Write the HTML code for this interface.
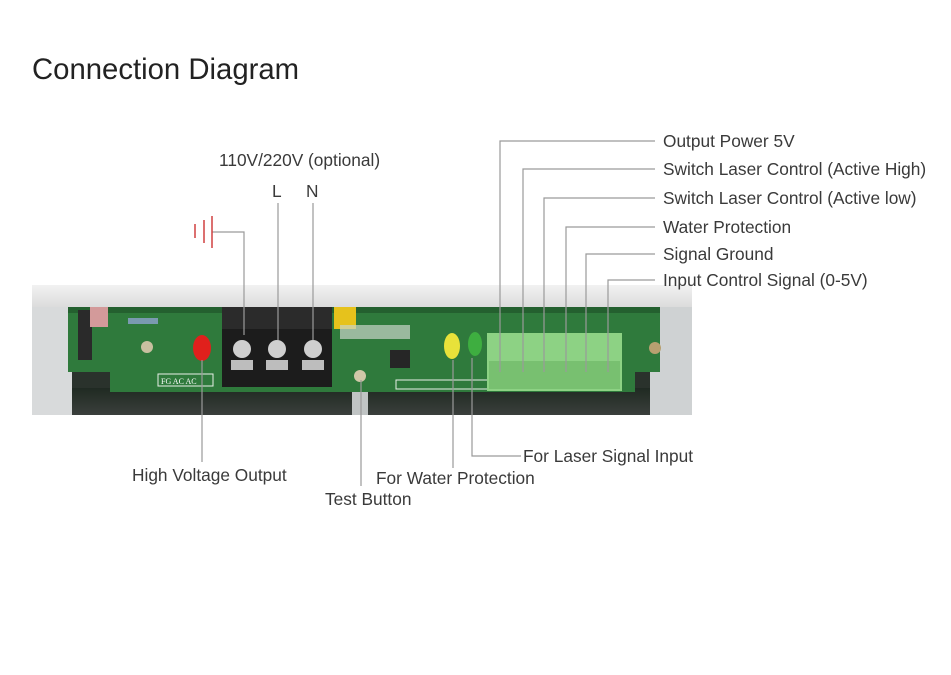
<!DOCTYPE html>
<html><head><meta charset="utf-8"><style>
html,body{margin:0;padding:0;background:#fff;}
body{width:951px;height:675px;overflow:hidden;position:relative;font-family:"Liberation Sans",sans-serif;}
svg{position:absolute;left:0;top:0;}
</style></head><body>
<svg width="951" height="675" viewBox="0 0 951 675" xmlns="http://www.w3.org/2000/svg">
<text x="32" y="79" font-size="29.3" fill="#222" font-family="Liberation Sans, sans-serif">Connection Diagram</text>
<defs>
<linearGradient id="top" x1="0" y1="0" x2="0" y2="1"><stop offset="0" stop-color="#f2f2f2"/><stop offset="1" stop-color="#dcdcdc"/></linearGradient>
<linearGradient id="bot" x1="0" y1="0" x2="0" y2="1"><stop offset="0" stop-color="#1f2a22"/><stop offset="1" stop-color="#3a3f3c"/></linearGradient>
</defs>
<rect x="32" y="285" width="660" height="130" fill="#2a322c"/>
<rect x="32" y="285" width="660" height="22" fill="url(#top)"/>
<rect x="32" y="307" width="40" height="108" fill="#d8dadb"/>
<rect x="650" y="307" width="42" height="108" fill="#cfd2d3"/>
<rect x="72" y="388" width="578" height="27" fill="url(#bot)"/>
<polygon points="68,307 660,307 660,372 635,372 635,392 110,392 110,372 68,372" fill="#2f7a3c"/>
<rect x="68" y="307" width="592" height="6" fill="#24602f"/>
<rect x="78" y="310" width="14" height="50" fill="#2a2a2a"/>
<rect x="90" y="307" width="18" height="20" fill="#d39a9a"/>
<rect x="128" y="318" width="30" height="6" fill="#7a9ab0"/>
<circle cx="147" cy="347" r="6" fill="#c8c0a0"/>
<circle cx="655" cy="348" r="6" fill="#b8a070"/>
<ellipse cx="202" cy="348" rx="9" ry="13" fill="#e0201c"/>
<rect x="158" y="374" width="55" height="12" fill="none" stroke="#e8f0e8" stroke-width="1"/>
<text x="161" y="384" font-size="8" fill="#fff" font-family="Liberation Serif, serif">FG AC AC</text>
<rect x="222" y="307" width="110" height="80" fill="#1c1c1c"/>
<rect x="222" y="307" width="110" height="22" fill="#2b2b2b"/>
<circle cx="242" cy="349" r="9" fill="#cfcfcf"/>
<circle cx="277" cy="349" r="9" fill="#cfcfcf"/>
<circle cx="313" cy="349" r="9" fill="#cfcfcf"/>
<rect x="231" y="360" width="22" height="10" fill="#bdbdbd"/>
<rect x="266" y="360" width="22" height="10" fill="#bdbdbd"/>
<rect x="302" y="360" width="22" height="10" fill="#bdbdbd"/>
<rect x="334" y="307" width="22" height="22" fill="#e6c21c"/>
<rect x="340" y="325" width="70" height="14" fill="#c8d4c8" opacity="0.7"/>
<circle cx="360" cy="376" r="6" fill="#d0c8a8"/>
<rect x="390" y="350" width="20" height="18" fill="#262626"/>
<rect x="396" y="380" width="92" height="9" fill="none" stroke="#e8f0e8" stroke-width="1"/>
<ellipse cx="452" cy="346" rx="8" ry="13" fill="#e8e23a"/>
<ellipse cx="475" cy="344" rx="7" ry="12" fill="#3eae40"/>
<rect x="487" y="333" width="135" height="58" fill="#8dd284"/>
<rect x="489" y="361" width="131" height="28" fill="#78c070"/>
<rect x="352" y="392" width="16" height="23" fill="#c0c4c4"/>
<g stroke="#9a9a9a" stroke-width="1.2" fill="none">
<polyline points="212,232 244,232 244,335"/>
<line x1="278" y1="203" x2="278" y2="340"/>
<line x1="313" y1="203" x2="313" y2="340"/>
<polyline points="655,141 500,141 500,372"/>
<polyline points="655,169 523,169 523,372"/>
<polyline points="655,198 544,198 544,372"/>
<polyline points="655,227 566,227 566,372"/>
<polyline points="655,254 586,254 586,372"/>
<polyline points="655,280 608,280 608,372"/>
<line x1="202" y1="360" x2="202" y2="462"/>
<line x1="361" y1="380" x2="361" y2="486"/>
<line x1="453" y1="360" x2="453" y2="468"/>
<polyline points="472,358 472,456 521,456"/>
</g>
<g stroke="#d04040" stroke-width="1.5">
<line x1="195" y1="224" x2="195" y2="238"/>
<line x1="204" y1="220" x2="204" y2="243"/>
<line x1="212" y1="216" x2="212" y2="248"/>
</g>
<g font-family="Liberation Sans, sans-serif" font-size="17.3" fill="#3a3a3a">
<text x="219" y="166">110V/220V (optional)</text>
<text x="272" y="197">L</text>
<text x="306" y="197">N</text>
<text x="663" y="147">Output Power 5V</text>
<text x="663" y="175">Switch Laser Control (Active High)</text>
<text x="663" y="204">Switch Laser Control (Active low)</text>
<text x="663" y="233">Water Protection</text>
<text x="663" y="260">Signal Ground</text>
<text x="663" y="286">Input Control Signal (0-5V)</text>
<text x="132" y="481">High Voltage Output</text>
<text x="376" y="484">For Water Protection</text>
<text x="325" y="505">Test Button</text>
<text x="523" y="462">For Laser Signal Input</text>
</g>
</svg>
</body></html>
